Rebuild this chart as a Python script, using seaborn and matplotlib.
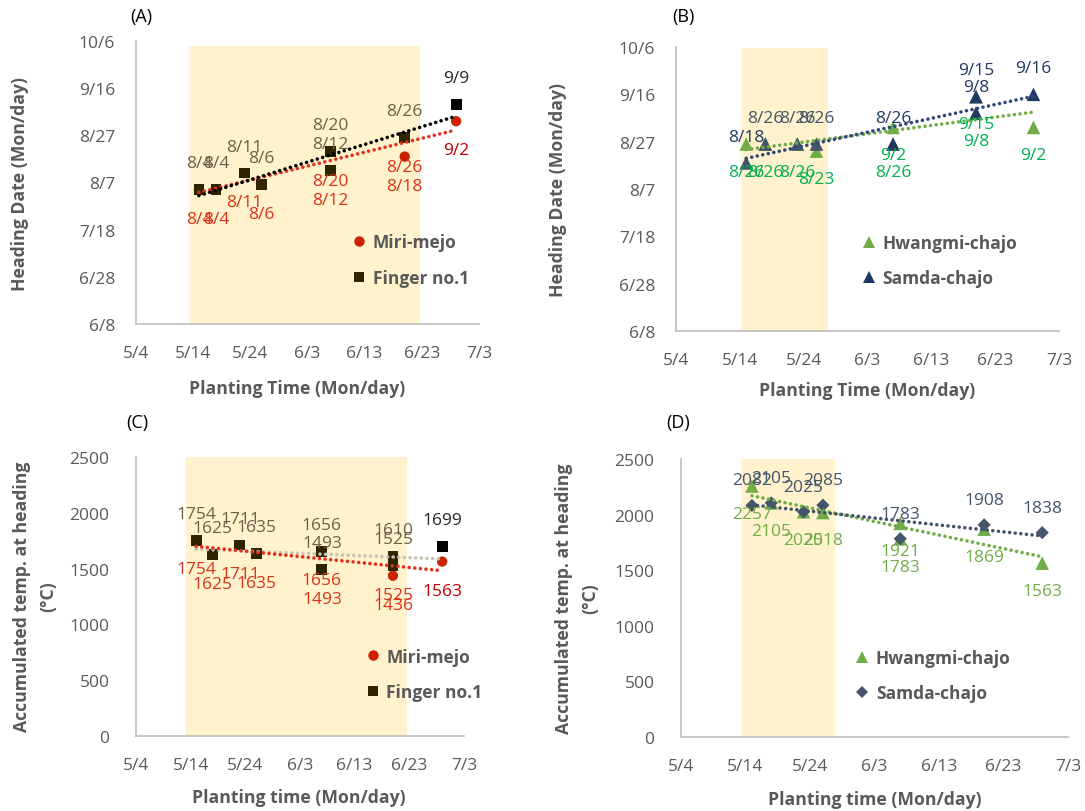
import datetime as dt

import numpy as np
import matplotlib
matplotlib.use("Agg")
import matplotlib.pyplot as plt
from matplotlib.lines import Line2D
from matplotlib.ticker import FuncFormatter, MultipleLocator
import seaborn as sns

sns.set_theme(style="white")
plt.rcParams["font.family"] = ["Open Sans", "DejaVu Sans"]

YEAR = 2019


def doy(md):
    m, d = map(int, md.split("/"))
    return dt.date(YEAR, m, d).timetuple().tm_yday


def md(v):
    d = dt.date(YEAR, 1, 1) + dt.timedelta(days=int(round(v)) - 1)
    return f"{d.month}/{d.day}"


# ---- data -------------------------------------------------------------
# (A) heading date, Miri-mejo / Finger no.1
finger_plant = ["5/15", "5/18", "5/23", "5/26", "6/7", "6/7", "6/20", "6/29"]
finger_heading = ["8/4", "8/4", "8/11", "8/6", "8/20", "8/12", "8/26", "9/9"]
miri_plant = ["5/15", "5/18", "5/23", "5/26", "6/7", "6/7", "6/20", "6/20", "6/29"]
miri_heading = ["8/4", "8/4", "8/11", "8/6", "8/20", "8/12", "8/26", "8/18", "9/2"]

# (B) heading date, Hwangmi-chajo / Samda-chajo
hwangmi_plant = ["5/15", "5/18", "5/23", "5/26", "6/7", "6/7", "6/20", "6/20", "6/29"]
hwangmi_heading = ["8/26", "8/26", "8/26", "8/23", "9/2", "8/26", "9/15", "9/8", "9/2"]
samda_plant = ["5/15", "5/18", "5/23", "5/26", "6/7", "6/20", "6/20", "6/29"]
samda_heading = ["8/18", "8/26", "8/26", "8/26", "8/26", "9/15", "9/8", "9/16"]

# (C) accumulated temperature at heading, Miri-mejo / Finger no.1
temp_plant_c = ["5/15", "5/18", "5/23", "5/26", "6/7", "6/7", "6/20", "6/20", "6/29"]
finger_temp = [1754, 1625, 1711, 1635, 1656, 1493, 1610, 1525, 1699]
miri_temp = [1754, 1625, 1711, 1635, 1656, 1493, 1525, 1436, 1563]

# (D) accumulated temperature at heading, Hwangmi-chajo / Samda-chajo
hwangmi_temp_plant = ["5/15", "5/18", "5/23", "5/26", "6/7", "6/7", "6/20", "6/29"]
hwangmi_temp = [2257, 2105, 2025, 2018, 1921, 1783, 1869, 1563]
samda_temp_plant = ["5/15", "5/18", "5/23", "5/26", "6/7", "6/20", "6/29"]
samda_temp = [2082, 2105, 2025, 2085, 1783, 1908, 1838]

# transplanting windows (shaded)
window_ac = ("5/13", "6/22")
window_bd = ("5/13", "5/27")

# ---- style ------------------------------------------------------------
SHADE = "#FFF2CC"
SPINE = "#BFBFBF"
TICK_TXT = "#595959"
RED_MK = "#CC2200"
RED_TXT = "#D9341A"
BROWN_MK = "#2E2500"
BROWN_TXT = "#6B6148"
GREEN_MK = "#70AD47"
GREEN_TXT = "#00B050"
NAVY_MK = "#203864"
SLATE_MK = "#44546A"
DOTS = (0, (0.01, 1.55))
FS = 12.5

W, H = 1085, 812
fig = plt.figure(figsize=(W / 100, H / 100), dpi=100)


def axes_px(l, t, r, b):
    return fig.add_axes([l / W, 1 - b / H, (r - l) / W, (b - t) / H])


axA = axes_px(136, 42, 479, 325)
axB = axes_px(676, 48, 1059, 332)
axC = axes_px(136, 458, 464, 737)
axD = axes_px(681, 460, 1068, 738)


def style_axes(ax, date_y, ypad):
    sns.despine(ax=ax)
    for s in ("left", "bottom"):
        ax.spines[s].set_color(SPINE)
        ax.spines[s].set_linewidth(1.2)
    ax.set_xlim(doy("5/4"), doy("7/3"))
    ax.xaxis.set_major_locator(MultipleLocator(10, offset=doy("5/4") % 10))
    ax.xaxis.set_major_formatter(FuncFormatter(lambda v, p: md(v)))
    if date_y:
        ax.set_ylim(doy("6/8"), doy("10/6"))
        ax.set_yticks(np.arange(doy("6/8"), doy("10/6") + 1, 20))
        ax.yaxis.set_major_formatter(FuncFormatter(lambda v, p: md(v)))
    else:
        ax.set_ylim(0, 2500)
        ax.set_yticks(np.arange(0, 2501, 500))
    ax.tick_params(axis="both", direction="in", length=5, width=1.2,
                   color=SPINE, labelcolor=TICK_TXT, labelsize=FS)
    ax.tick_params(axis="x", pad=15)
    ax.tick_params(axis="y", pad=ypad)
    ax.set_xlabel("")
    ax.set_ylabel("")


def shade(ax, window, lo, hi, top=1.0):
    ax.axvspan(doy(window[0]) + lo, doy(window[1]) + hi, ymin=0, ymax=top,
               color=SHADE, lw=0, zorder=0)


def points(ax, xs, ys, colors, marker, size, z):
    pal = {c: c for c in set(colors)}
    sns.scatterplot(x=xs, y=ys, hue=colors, palette=pal, marker=marker, s=size,
                    linewidth=0, legend=False, ax=ax, zorder=z)


def trend(ax, xs, ys, color, z=6):
    sns.regplot(x=np.asarray(xs, float), y=np.asarray(ys, float), scatter=False,
                ci=None, truncate=True, ax=ax,
                line_kws=dict(color=color, lw=2.6, ls=DOTS,
                              dash_capstyle="round", zorder=z))


def labels(ax, xs, ys, texts, colors, dy):
    for x, y, t, c in zip(xs, ys, texts, colors):
        ax.annotate(t, (x, y), xytext=(0, dy), textcoords="offset points",
                    ha="center", va="center", fontsize=FS, color=c, zorder=8)


def legend(ax, handles, names, x, y):
    leg = ax.legend(handles, names, loc="upper left", bbox_to_anchor=(x, y),
                    frameon=False, fontsize=12.5, handlelength=0.8,
                    handletextpad=0.4, labelspacing=1.0, borderpad=0,
                    borderaxespad=0)
    for t in leg.get_texts():
        t.set_color(TICK_TXT)
        t.set_fontweight("bold")


def mk(marker, color, size=7.5):
    return Line2D([], [], ls="", marker=marker, color=color, markersize=size,
                  markeredgewidth=0)


# ---- (A) --------------------------------------------------------------
ax = axA
style_axes(ax, True, 15)
shade(ax, window_ac, 0.35, 0.6, top=0.982)
fx = [doy(p) for p in finger_plant]
fy = [doy(h) for h in finger_heading]
mx = [doy(p) for p in miri_plant]
my = [doy(h) for h in miri_heading]
points(ax, mx, my, [RED_MK] * len(mx), "o", 55, 3)
points(ax, fx, fy, [BROWN_MK] * (len(fx) - 1) + ["#000000"], "s", 60, 4)
trend(ax, mx, my, "#E0301E")
trend(ax, fx, fy, "#000000", z=7)
labels(ax, fx, fy, finger_heading, [BROWN_TXT] * (len(fx) - 1) + ["#262626"], 19)
labels(ax, mx, my, miri_heading, [RED_TXT] * (len(mx) - 1) + ["#C00000"], -21)
legend(ax, [mk("o", RED_MK), mk("s", BROWN_MK)], ["Miri-mejo", "Finger no.1"],
       0.63, 0.32)

# ---- (B) --------------------------------------------------------------
ax = axB
style_axes(ax, True, 15)
shade(ax, window_bd, 1.2, 0.8, top=0.998)
hx = [doy(p) for p in hwangmi_plant]
hy = [doy(h) for h in hwangmi_heading]
sx = [doy(p) for p in samda_plant]
sy = [doy(h) for h in samda_heading]
points(ax, hx, hy, [GREEN_MK] * len(hx), "^", 95, 3)
points(ax, sx, sy, [SLATE_MK] * 4 + [NAVY_MK] * (len(sx) - 4), "^", 95, 4)
trend(ax, hx, hy, GREEN_MK)
trend(ax, sx, sy, "#2F4A7A", z=7)
labels(ax, sx, sy, samda_heading, [NAVY_MK] + [SLATE_MK] * 3 + [NAVY_MK] * (len(sx) - 4), 19)
labels(ax, hx, hy, hwangmi_heading, [GREEN_TXT] * len(hx), -20)
legend(ax, [mk("^", GREEN_MK, 8.5), mk("^", NAVY_MK, 8.5)],
       ["Hwangmi-chajo", "Samda-chajo"], 0.485, 0.342)

# ---- (C) --------------------------------------------------------------
ax = axC
style_axes(ax, False, 19)
shade(ax, window_ac, 0.2, 0.5)
cx = [doy(p) for p in temp_plant_c]
points(ax, cx, miri_temp, [RED_MK] * len(cx), "o", 55, 3)
points(ax, cx, finger_temp, [BROWN_MK] * (len(cx) - 1) + ["#000000"], "s", 60, 4)
trend(ax, cx, finger_temp, "#C9C3B5")
trend(ax, cx, miri_temp, "#E0301E", z=7)
labels(ax, cx, finger_temp, [str(v) for v in finger_temp],
       [BROWN_TXT] * (len(cx) - 1) + ["#262626"], 19)
labels(ax, cx, miri_temp, [str(v) for v in miri_temp],
       [RED_TXT] * (len(cx) - 1) + ["#C00000"], -21)
legend(ax, [mk("o", RED_MK), mk("s", BROWN_MK)], ["Miri-mejo", "Finger no.1"],
       0.7, 0.317)

# ---- (D) --------------------------------------------------------------
ax = axD
style_axes(ax, False, 19)
shade(ax, window_bd, 0.3, 0.9)
hdx = [doy(p) for p in hwangmi_temp_plant]
sdx = [doy(p) for p in samda_temp_plant]
points(ax, hdx, hwangmi_temp, [GREEN_MK] * len(hdx), "^", 95, 3)
points(ax, sdx, samda_temp, [SLATE_MK] * len(sdx), "D", 45, 4)
trend(ax, hdx, hwangmi_temp, GREEN_MK)
trend(ax, sdx, samda_temp, SLATE_MK, z=7)
labels(ax, sdx, samda_temp, [str(v) for v in samda_temp], [SLATE_MK] * len(sdx), 18)
labels(ax, hdx, hwangmi_temp, [str(v) for v in hwangmi_temp], [GREEN_MK] * len(hdx), -20)
legend(ax, [mk("^", GREEN_MK, 8.5), mk("D", SLATE_MK, 6.5)],
       ["Hwangmi-chajo", "Samda-chajo"], 0.45, 0.317)

# ---- panel tags and axis titles ---------------------------------------
lab_kw = dict(fontsize=12.7, fontweight="bold", color=TICK_TXT)
for tag, x, y in [("(A)", 141, 17), ("(B)", 683, 17), ("(C)", 137, 423), ("(D)", 678, 423)]:
    fig.text(x / W, 1 - y / H, tag, ha="center", va="center", fontsize=13, color="#000000")

fig.text(297 / W, 1 - 389 / H, "Planting Time (Mon/day)", ha="center", va="center", **lab_kw)
fig.text(867 / W, 1 - 391 / H, "Planting Time (Mon/day)", ha="center", va="center", **lab_kw)
fig.text(299 / W, 1 - 798 / H, "Planting time (Mon/day)", ha="center", va="center", **lab_kw)
fig.text(875 / W, 1 - 800 / H, "Planting time (Mon/day)", ha="center", va="center", **lab_kw)

fig.text(20 / W, 1 - 184 / H, "Heading Date (Mon/day)", rotation=90,
         ha="center", va="center", **lab_kw)
fig.text(558 / W, 1 - 190 / H, "Heading Date (Mon/day)", rotation=90,
         ha="center", va="center", **lab_kw)
fig.text(35 / W, 1 - 597 / H, "Accumulated temp. at heading\n(°C)", rotation=90,
         ha="center", va="center", linespacing=1.6, multialignment="center", **lab_kw)
fig.text(577 / W, 1 - 599 / H, "Accumulated temp. at heading\n(°C)", rotation=90,
         ha="center", va="center", linespacing=1.6, multialignment="center", **lab_kw)

fig.savefig("out.png", dpi=100)
